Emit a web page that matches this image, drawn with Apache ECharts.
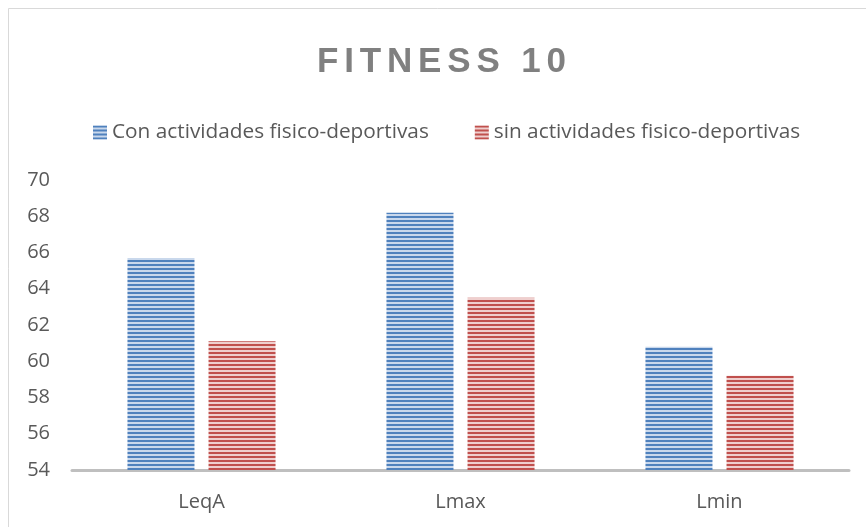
<!DOCTYPE html>
<html>
<head>
<meta charset="utf-8">
<script src="https://cdn.jsdelivr.net/npm/echarts@6/dist/echarts.min.js"></script>
<style>
  html, body { margin: 0; padding: 0; background: #fff; }
  #main { width: 866px; height: 527px; }
</style>
</head>
<body>
<div id="main"></div>
<script>
// datos
var categories = ['LeqA', 'Lmax', 'Lmin'];
var conActividades = [65.7, 68.2, 60.8];
var sinActividades = [61.1, 63.5, 59.2];
var seriesNames = ['Con actividades fisico-deportivas', 'sin actividades fisico-deportivas'];
var titulo = 'FITNESS 10';

// rayas horizontales como en el original
function stripes(dark, light) {
    var c = document.createElement('canvas');
    c.width = 4;
    c.height = 4;
    var ctx = c.getContext('2d');
    ctx.fillStyle = light;
    ctx.fillRect(0, 0, 4, 4);
    ctx.fillStyle = dark;
    ctx.fillRect(0, 0, 4, 2);
    return { image: c, repeat: 'repeat' };
}

// espaciado entre letras del titulo (six-per-em space)
function espaciar(txt) {
    return txt.split('').join('\u2006');
}

var fontFam = '"Open Sans", "Liberation Sans", sans-serif';
var chart = echarts.init(document.getElementById('main'));

var option = {
    animation: false,
    backgroundColor: '#fff',
    graphic: [{
        type: 'rect',
        shape: { x: 8.5, y: 8.5, width: 1000, height: 1000 },
        style: { fill: 'none', stroke: '#d9d9d9', lineWidth: 1 },
        silent: true
    }],
    title: {
        text: espaciar(titulo),
        left: 317,
        top: 45,
        padding: 0,
        textStyle: {
            fontFamily: '"Liberation Sans", Arial, sans-serif',
            fontWeight: 'bold',
            fontSize: 35,
            color: '#808080'
        }
    },
    legend: {
        top: 117,
        left: 88,
        itemWidth: 14,
        itemHeight: 14,
        itemGap: 46,
        icon: 'rect',
        textStyle: { fontFamily: fontFam, fontSize: 20.8, color: '#595959' },
        data: seriesNames
    },
    grid: { left: 72, right: 17, top: 180, bottom: 57 },
    xAxis: {
        type: 'category',
        data: categories,
        axisLine: { lineStyle: { color: '#bfbfbf', width: 3 } },
        axisTick: { show: false },
        axisLabel: { fontFamily: fontFam, fontSize: 20, color: '#595959', margin: 22 }
    },
    yAxis: {
        type: 'value',
        min: 54,
        max: 70,
        interval: 2,
        axisLine: { show: false },
        axisTick: { show: false },
        splitLine: { show: false },
        axisLabel: { fontFamily: fontFam, fontSize: 20, color: '#595959', margin: 22 }
    },
    series: [{
        name: seriesNames[0],
        type: 'bar',
        data: conActividades,
        barWidth: 67,
        barGap: '21%',
        itemStyle: { color: stripes('#4f81bd', '#c9d8ec') }
    }, {
        name: seriesNames[1],
        type: 'bar',
        data: sinActividades,
        barWidth: 67,
        barGap: '21%',
        itemStyle: { color: stripes('#c0504d', '#efcfce') }
    }]
};
chart.setOption(option);
</script>
</body>
</html>
